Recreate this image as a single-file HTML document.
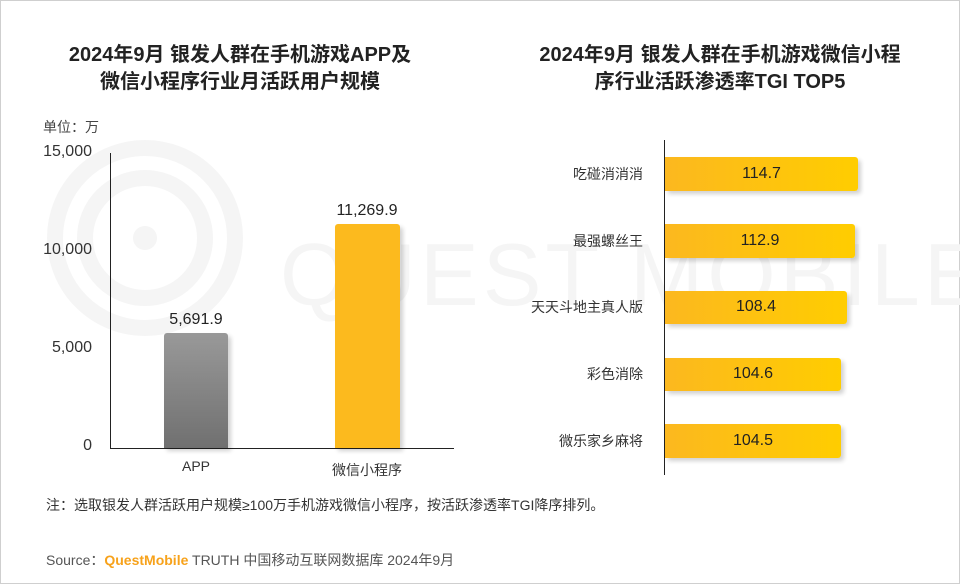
<!DOCTYPE html>
<html><head><meta charset="utf-8"><style>
body{margin:0;width:960px;height:584px;background:#fff;overflow:hidden;font-family:"Liberation Sans","Noto Sans CJK SC",sans-serif;}
.f{position:absolute;left:0;top:0;width:958px;height:582px;border:1px solid #cfcfcf;}
.a{position:absolute;white-space:nowrap;}
.t{font-weight:bold;font-size:20px;color:#222;text-align:center;line-height:27px;}
.tk{font-size:16px;color:#333;text-align:right;width:60px;}
.lb{font-size:14px;color:#333;text-align:right;width:160px;}
.bar{position:absolute;background:linear-gradient(90deg,#fcb81f,#ffcd00);border-radius:0 3px 3px 0;box-shadow:3px 3px 4px rgba(0,0,0,0.18);}
.v{font-size:16px;color:#222;text-align:center;}
</style></head><body>
<div class="f"></div>
<svg class="a" style="left:0;top:0" width="960" height="584">
<g fill="none" stroke="#f5f5f5" stroke-width="16">
<circle cx="145" cy="238" r="90"/><circle cx="145" cy="238" r="60"/>
</g>
<circle cx="145" cy="238" r="12" fill="#f5f5f5"/>
<text x="280" y="305" font-family="Liberation Sans" font-size="88" fill="#f5f5f5" letter-spacing="4">QUEST MOBILE</text>
</svg>
<div class="a t" style="left:0;width:480px;top:42px">2024年9月 银发人群在手机游戏APP及<br>微信小程序行业月活跃用户规模</div>
<div class="a t" style="left:480px;width:480px;top:42px">2024年9月 银发人群在手机游戏微信小程<br>序行业活跃渗透率TGI TOP5</div>
<div class="a" style="left:43px;top:117px;font-size:14px;color:#444">单位：万</div>
<div class="a tk" style="left:32px;top:143px">15,000</div>
<div class="a tk" style="left:32px;top:241px">10,000</div>
<div class="a tk" style="left:32px;top:339px">5,000</div>
<div class="a tk" style="left:32px;top:437px">0</div>
<div class="a" style="left:110px;top:153px;width:1px;height:296px;background:#222"></div>
<div class="a" style="left:110px;top:448px;width:344px;height:1px;background:#222"></div>
<div class="bar" style="left:164px;top:333px;width:64px;height:115px;background:linear-gradient(#999,#707070);border-radius:3px 3px 0 0"></div>
<div class="bar" style="left:335px;top:224px;width:65px;height:224px;background:#fcba1e;border-radius:3px 3px 0 0"></div>
<div class="a v" style="left:146px;width:100px;top:311px">5,691.9</div>
<div class="a v" style="left:317px;width:100px;top:202px">11,269.9</div>
<div class="a" style="left:146px;width:100px;top:458px;text-align:center;font-size:14px;color:#333">APP</div>
<div class="a" style="left:317px;width:100px;top:460px;text-align:center;font-size:14px;color:#333">微信小程序</div>
<div class="a" style="left:664px;top:140px;width:1px;height:335px;background:#222"></div>
<div class="a lb" style="left:483px;top:164px">吃碰消消消</div>
<div class="a lb" style="left:483px;top:231px">最强螺丝王</div>
<div class="a lb" style="left:483px;top:297px">天天斗地主真人版</div>
<div class="a lb" style="left:483px;top:364px">彩色消除</div>
<div class="a lb" style="left:483px;top:431px">微乐家乡麻将</div>
<div class="bar" style="left:665px;top:157px;width:193px;height:34px"></div>
<div class="bar" style="left:665px;top:224px;width:190px;height:34px"></div>
<div class="bar" style="left:665px;top:291px;width:182px;height:33px"></div>
<div class="bar" style="left:665px;top:358px;width:176px;height:33px"></div>
<div class="bar" style="left:665px;top:424px;width:176px;height:34px"></div>
<div class="a v" style="left:665px;width:193px;top:165px">114.7</div>
<div class="a v" style="left:665px;width:190px;top:232px">112.9</div>
<div class="a v" style="left:665px;width:182px;top:298px">108.4</div>
<div class="a v" style="left:665px;width:176px;top:365px">104.6</div>
<div class="a v" style="left:665px;width:176px;top:432px">104.5</div>
<div class="a" style="left:46px;top:495px;font-size:14px;color:#333">注：选取银发人群活跃用户规模≥100万手机游戏微信小程序，按活跃渗透率TGI降序排列。</div>
<div class="a" style="left:46px;top:550px;font-size:14px;color:#555">Source：<span style="color:#f7a21b;font-weight:bold">QuestMobile</span> TRUTH 中国移动互联网数据库 2024年9月</div>
</body></html>
